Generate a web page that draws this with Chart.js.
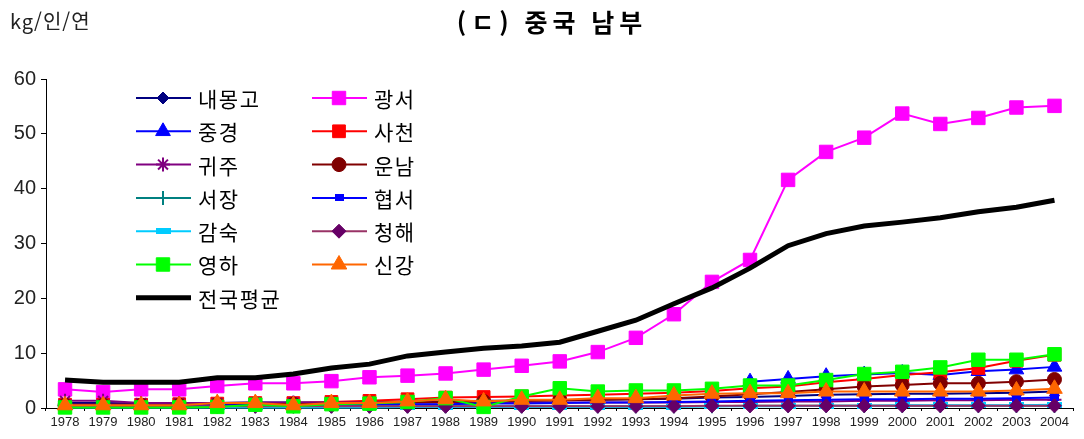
<!DOCTYPE html>
<html lang="ko">
<head>
<meta charset="utf-8">
<title>중국 남부</title>
<script src="https://cdn.jsdelivr.net/npm/chart.js@4.4.1/dist/chart.umd.min.js"></script>
<style>
  html, body { margin: 0; padding: 0; background: #fff; }
</style>
</head>
<body>
<canvas id="chart" width="1084" height="439"></canvas>
<script>
// données (kg / personne / an)
var years = ['1978', '1979', '1980', '1981', '1982', '1983', '1984', '1985', '1986', '1987', '1988', '1989', '1990',
             '1991', '1992', '1993', '1994', '1995', '1996', '1997', '1998', '1999', '2000', '2001', '2002', '2003', '2004'];
var yTicks = [0, 10, 20, 30, 40, 50, 60];

var neimenggu = [0.9, 0.9, 0.8, 0.8, 0.9, 1.0, 1.0, 1.0, 1.1, 1.2, 1.2, 1.3, 1.3, 1.4, 1.5, 1.6, 1.7, 1.9, 2.0, 2.2, 2.4, 2.5, 2.6, 2.6, 2.7, 2.8, 3.0];
var guangxi   = [3.4, 2.9, 3.4, 3.4, 4.0, 4.5, 4.5, 4.9, 5.6, 5.9, 6.3, 7.0, 7.7, 8.5, 10.2, 12.8, 17.1, 23.0, 27.0, 41.6, 46.7, 49.3, 53.7, 51.8, 52.9, 54.8, 55.1];
var chongqing = [null, null, null, null, null, null, null, null, null, null, null, null, null, null, null, null, null, null, 4.8, 5.3, 5.8, 6.1, 6.4, 6.0, 6.7, 7.0, 7.5];
var sichuan   = [0.6, 0.6, 0.6, 0.7, 0.8, 0.9, 0.9, 1.1, 1.3, 1.6, 1.9, 2.0, 2.1, 2.3, 2.4, 2.6, 2.8, 3.1, 3.6, 3.9, 4.7, 5.3, 6.0, 6.5, 7.3, 8.6, 9.7];
var guizhou   = [1.3, 1.3, 0.9, 0.9, 0.9, 1.0, 1.0, 1.0, 1.0, 1.0, 1.0, 1.0, 1.0, 1.0, 1.0, 1.0, 1.0, 1.1, 1.1, 1.2, 1.2, 1.3, 1.3, 1.4, 1.4, 1.5, 1.5];
var yunnan    = [0.5, 0.5, 0.5, 0.5, 0.6, 0.7, 0.7, 0.8, 0.9, 1.0, 1.1, 1.2, 1.3, 1.4, 1.5, 1.6, 1.8, 2.1, 2.5, 2.9, 3.4, 3.9, 4.2, 4.5, 4.5, 4.8, 5.2];
var xizang    = [0.2, 0.2, 0.2, 0.2, 0.2, 0.3, 0.3, 0.3, 0.3, 0.3, 0.3, 0.3, 0.3, 0.3, 0.3, 0.3, 0.3, 0.3, 0.4, 0.4, 0.4, 0.4, 0.4, 0.4, 0.4, 0.4, 0.4];
var shaanxi   = [0.4, 0.4, 0.4, 0.4, 0.5, 0.5, 0.5, 0.6, 0.6, 0.7, 0.7, 0.8, 0.8, 0.9, 1.0, 1.0, 1.1, 1.2, 1.3, 1.4, 1.5, 1.6, 1.6, 1.7, 1.7, 1.8, 1.9];
var gansu     = [0.1, 0.1, 0.1, 0.1, 0.1, 0.1, 0.1, 0.1, 0.1, 0.2, 0.2, 0.2, 0.2, 0.2, 0.2, 0.2, 0.2, 0.3, 0.3, 0.3, 0.4, 0.4, 0.5, 0.5, 0.5, 0.5, 0.6];
var qinghai   = [0.4, 0.4, 0.3, 0.3, 0.3, 0.3, 0.3, 0.3, 0.3, 0.3, 0.3, 0.3, 0.3, 0.3, 0.3, 0.3, 0.3, 0.4, 0.4, 0.4, 0.4, 0.4, 0.4, 0.4, 0.4, 0.4, 0.4];
var ningxia   = [0.1, 0.1, 0.1, 0.1, 0.2, 0.6, 0.3, 0.7, 0.8, 1.1, 1.8, 0.2, 2.1, 3.6, 3.0, 3.2, 3.2, 3.5, 4.1, 4.1, 5.1, 6.2, 6.6, 7.4, 8.8, 8.8, 9.8];
var xinjiang  = [0.5, 0.5, 0.5, 0.5, 0.9, 0.9, 0.5, 0.9, 0.9, 1.2, 1.6, 1.2, 1.5, 1.5, 1.8, 1.8, 2.3, 2.6, 2.7, 2.7, 3.0, 3.0, 3.0, 3.0, 3.0, 3.2, 3.5];
var national  = [5.1, 4.7, 4.7, 4.7, 5.5, 5.5, 6.2, 7.3, 8.0, 9.5, 10.2, 10.9, 11.3, 12.0, 14.0, 16.0, 19.0, 21.9, 25.5, 29.6, 31.8, 33.2, 33.9, 34.7, 35.8, 36.6, 37.9];

var titleText = '(ㄷ) 중국 남부';
var unitText = 'kg/인/연';
var krFont = '"Noto Sans CJK KR", "Noto Sans", sans-serif';
var numFont = '"Liberation Sans", Arial, sans-serif';

// petits marqueurs rectangulaires (협서, 감숙)
function makeBox(w, h, color) {
    var c = document.createElement('canvas');
    c.width = w; c.height = h;
    var g = c.getContext('2d');
    g.fillStyle = color;
    g.fillRect(0, 0, w, h);
    return c;
}

function serie(label, data, color, style, radius, opts) {
    var ds = {
        label: label,
        data: data,
        borderColor: color,
        borderWidth: 2,
        pointStyle: style,
        pointRadius: radius,
        pointBackgroundColor: color,
        pointBorderColor: color,
        pointBorderWidth: 1,
        tension: 0,
        clip: false
    };
    for (var k in opts) ds[k] = opts[k];
    return ds;
}

var datasets = [
    serie('내몽고', neimenggu, '#000080', 'rectRot', 6),
    serie('광서', guangxi, '#FF00FF', 'rect', 9.5),
    serie('중경', chongqing, '#0000FF', 'triangle', 8.5),
    serie('사천', sichuan, '#FF0000', 'rect', 9),
    serie('귀주', guizhou, '#800080', 'star', 7, { pointBorderWidth: 2 }),
    serie('운남', yunnan, '#800000', 'circle', 7),
    serie('서장', xizang, '#008080', 'cross', 7, { pointBorderWidth: 2 }),
    serie('협서', shaanxi, '#0000FF', makeBox(9, 7, '#0000FF'), 4),
    serie('감숙', gansu, '#00CCFF', makeBox(15, 6, '#00CCFF'), 4),
    serie('청해', qinghai, '#993366', 'rectRot', 7, { pointBackgroundColor: '#660066', pointBorderColor: '#660066' }),
    serie('영하', ningxia, '#00FF00', 'rect', 9.5),
    serie('신강', xinjiang, '#FF6600', 'triangle', 9),
    serie('전국평균', national, '#000000', 'circle', 0, { borderWidth: 5 })
];
// les dernières séries passent au-dessus
datasets.forEach(function (ds, i) { ds.order = datasets.length - i; });

// titre, unité et légende en deux colonnes
var decorPlugin = {
    id: 'decor',
    afterDraw: function (chart) {
        var ctx = chart.ctx;
        ctx.save();
        ctx.fillStyle = '#000';
        ctx.textBaseline = 'middle';
        ctx.textAlign = 'center';
        ctx.letterSpacing = '5px';
        ctx.font = 'bold 25px ' + krFont;
        ctx.fillText(titleText, 552, 22);
        ctx.textAlign = 'left';
        ctx.letterSpacing = '1px';
        ctx.font = '20px ' + krFont;
        ctx.fillStyle = '#222';
        ctx.fillText(unitText, 10, 21);

        chart.data.datasets.forEach(function (ds, i) {
            var col = i % 2, row = Math.floor(i / 2);
            var x0 = col ? 312 : 136;
            var y = 98 + row * 33.3;
            ctx.strokeStyle = ds.borderColor;
            ctx.lineWidth = ds.borderWidth;
            ctx.beginPath();
            ctx.moveTo(x0, y);
            ctx.lineTo(x0 + 55, y);
            ctx.stroke();
            if (ds.pointRadius > 0) {
                ctx.fillStyle = ds.pointBackgroundColor;
                ctx.strokeStyle = ds.pointBorderColor;
                ctx.lineWidth = ds.pointBorderWidth;
                Chart.helpers.drawPoint(ctx, {
                    pointStyle: ds.pointStyle, radius: ds.pointRadius,
                    rotation: 0, borderWidth: ds.pointBorderWidth
                }, x0 + 27, y);
            }
            ctx.fillStyle = '#000';
            ctx.font = '21px ' + krFont;
            ctx.letterSpacing = '1.5px';
            ctx.textAlign = 'left';
            ctx.fillText(ds.label, x0 + 62, y + 1);
        });
        ctx.restore();
    }
};

var ctx = document.getElementById('chart').getContext('2d');
new Chart(ctx, {
    type: 'line',
    data: { labels: years, datasets: datasets },
    options: {
        responsive: false,
        animation: false,
        events: [],
        layout: { padding: { top: 79, right: 3, left: 0, bottom: 0 } },
        plugins: { legend: { display: false }, title: { display: false }, tooltip: { enabled: false } },
        scales: {
            x: {
                offset: true,
                grid: { offset: true, drawOnChartArea: false, tickLength: 3, color: '#000' },
                border: { color: '#000', width: 1 },
                ticks: { autoSkip: false, maxRotation: 0, padding: 4, color: '#222', font: { family: numFont, size: 13 } },
                afterFit: function (s) { s.height = 31; }
            },
            y: {
                min: 0,
                max: 60,
                afterBuildTicks: function (s) { s.ticks = yTicks.map(function (v) { return { value: v }; }); },
                grid: { drawOnChartArea: false, tickLength: 5, color: '#000' },
                border: { color: '#000', width: 1 },
                ticks: { padding: 5, color: '#222', font: { family: numFont, size: 20 } },
                afterFit: function (s) { s.width = 46; }
            }
        }
    },
    plugins: [decorPlugin]
});
</script>
</body>
</html>
